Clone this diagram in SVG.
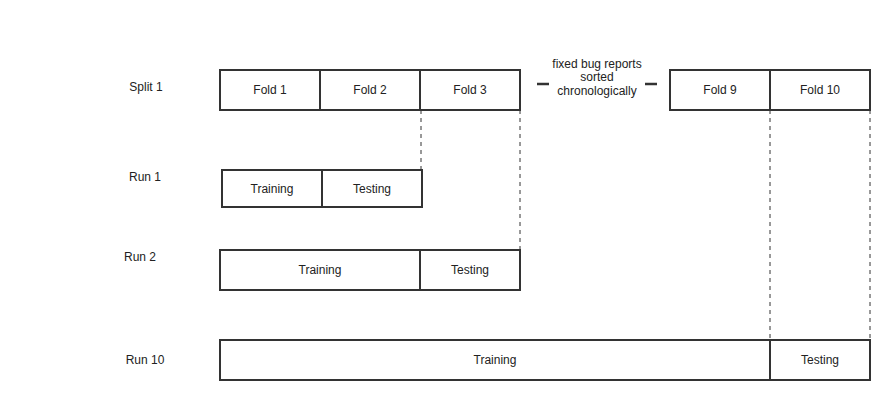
<svg xmlns="http://www.w3.org/2000/svg" width="896" height="400" viewBox="0 0 896 400">
<style>
.box{fill:#fff;stroke:#333;stroke-width:2}
.t{font-family:"Liberation Sans",Arial,sans-serif;font-size:12px;fill:#222;text-anchor:middle;dominant-baseline:central}
.d{stroke:#333;stroke-width:1;stroke-dasharray:4 4;fill:none}
.dash{stroke:#333;stroke-width:2.5}
</style>
<rect width="896" height="400" fill="#fff"/>
<g id="connectors">
<line class="d" x1="421" y1="110" x2="421" y2="170"/>
<line class="d" x1="520" y1="110" x2="520" y2="250"/>
<line class="d" x1="770" y1="110" x2="770" y2="340"/>
<line class="d" x1="870" y1="110" x2="870" y2="340"/>
<line class="dash" x1="537" y1="84" x2="549" y2="84"/>
<line class="dash" x1="645" y1="84" x2="657" y2="84"/>
</g>
<g id="labels">
<text class="t" x="146" y="87">Split 1</text>
<text class="t" x="145" y="177">Run 1</text>
<text class="t" x="140" y="257">Run 2</text>
<text class="t" x="145" y="360">Run 10</text>
<text class="t" x="597" y="64">fixed bug reports</text>
<text class="t" x="597" y="77">sorted</text>
<text class="t" x="597" y="91">chronologically</text>
</g>
<g id="fold1"><rect class="box" x="220" y="70" width="100" height="40"/><text class="t" x="270" y="90">Fold 1</text></g>
<g id="fold2"><rect class="box" x="320" y="70" width="100" height="40"/><text class="t" x="370" y="90">Fold 2</text></g>
<g id="fold3"><rect class="box" x="420" y="70" width="100" height="40"/><text class="t" x="470" y="90">Fold 3</text></g>
<g id="fold9"><rect class="box" x="670" y="70" width="100" height="40"/><text class="t" x="720" y="90">Fold 9</text></g>
<g id="fold10"><rect class="box" x="770" y="70" width="100" height="40"/><text class="t" x="820" y="90">Fold 10</text></g>
<g id="run1train"><rect class="box" x="222" y="170" width="100" height="37"/><text class="t" x="272" y="189">Training</text></g>
<g id="run1test"><rect class="box" x="322" y="170" width="100" height="37"/><text class="t" x="372" y="189">Testing</text></g>
<g id="run2train"><rect class="box" x="220" y="250" width="200" height="40"/><text class="t" x="320" y="270">Training</text></g>
<g id="run2test"><rect class="box" x="420" y="250" width="100" height="40"/><text class="t" x="470" y="270">Testing</text></g>
<g id="run10train"><rect class="box" x="220" y="340" width="550" height="40"/><text class="t" x="495" y="360">Training</text></g>
<g id="run10test"><rect class="box" x="770" y="340" width="100" height="40"/><text class="t" x="820" y="360">Testing</text></g>
</svg>
